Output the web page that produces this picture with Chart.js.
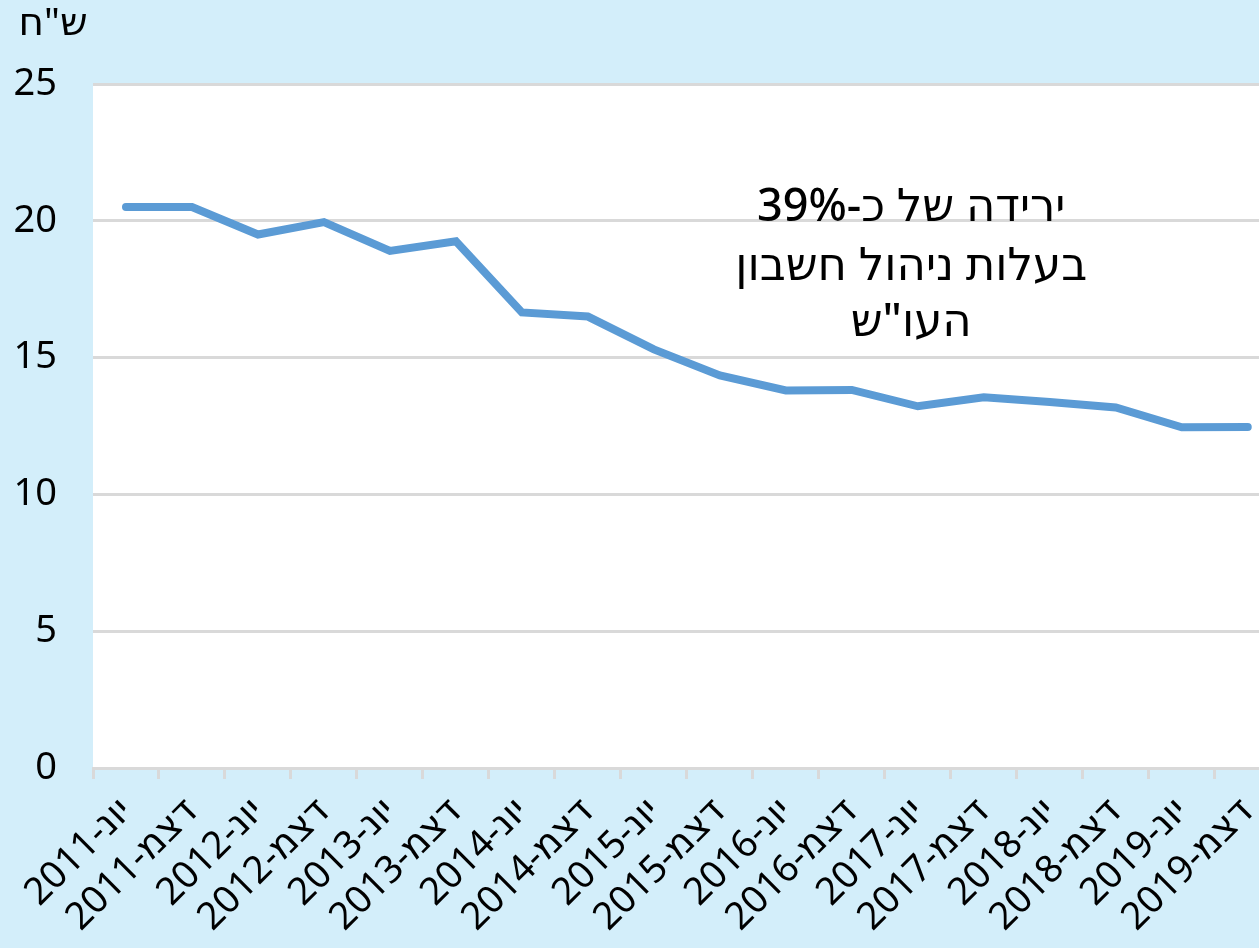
<!DOCTYPE html>
<html>
<head>
<meta charset="utf-8">
<script src="https://cdn.jsdelivr.net/npm/chart.js@4"></script>
<style>
  html, body { margin: 0; padding: 0; background: #d3eefa; overflow: hidden; }
  #wrap { width: 1259px; height: 948px; overflow: hidden; }
</style>
</head>
<body>
<div id="wrap"><canvas id="chart1" width="1290" height="948"></canvas></div>
<script>
const labels = [
  'יונ-2011', 'דצמ-2011', 'יונ-2012', 'דצמ-2012', 'יונ-2013', 'דצמ-2013',
  'יונ-2014', 'דצמ-2014', 'יונ-2015', 'דצמ-2015', 'יונ-2016', 'דצמ-2016',
  'יונ-2017', 'דצמ-2017', 'יונ-2018', 'דצמ-2018', 'יונ-2019', 'דצמ-2019',
];
const fees = [
  20.5, 20.5, 19.5, 19.95, 18.9, 19.25,
  16.65, 16.5, 15.3, 14.35, 13.8, 13.82,
  13.22, 13.55, 13.38, 13.18, 12.45, 12.46,
];
const yTicks = [0, 5, 10, 15, 20, 25];
const unitLabel = 'ש"ח';
const noteLines = ['ירידה של כ-39%', 'בעלות ניהול חשבון', 'העו"ש'];

const fontFamily = '"Noto Sans", "DejaVu Sans", sans-serif';

// white plot area + unit label + note
const extras = {
  id: 'extras',
  beforeDraw(chart) {
    const { ctx, chartArea: a } = chart;
    ctx.save();
    ctx.fillStyle = '#ffffff';
    ctx.fillRect(a.left, a.top, a.right - a.left, a.bottom - a.top);
    ctx.restore();
  },
  afterDraw(chart) {
    const { ctx } = chart;
    const x = chart.scales.x;
    const y = chart.scales.y;
    ctx.save();
    ctx.fillStyle = '#000000';
    ctx.direction = 'rtl';
    ctx.textAlign = 'center';
    ctx.textBaseline = 'middle';
    ctx.font = '39px ' + fontFamily;
    ctx.fillText(unitLabel, 53, 24);
    ctx.font = '500 45px ' + fontFamily;
    const cx = x.getPixelForValue(11.9);
    const lineY = [20.45, 18.32, 16.25];
    noteLines.forEach((t, i) => ctx.fillText(t, cx, y.getPixelForValue(lineY[i])));
    ctx.restore();
  },
};

const config = {
  type: 'line',
  data: {
    labels: labels,
    datasets: [{
      data: fees,
      borderColor: '#5b9bd5',
      borderWidth: 8,
      borderCapStyle: 'round',
      borderJoinStyle: 'miter',
      pointRadius: 0,
      fill: false,
      tension: 0,
    }],
  },
  options: {
    responsive: false,
    animation: false,
    layout: { padding: { top: 84, left: 0, right: 0, bottom: 0 } },
    plugins: { legend: { display: false }, tooltip: { enabled: false } },
    scales: {
      x: {
        offset: true,
        grid: { offset: true, drawOnChartArea: false, drawTicks: true, tickLength: 11, color: '#d9d9d9', lineWidth: 3 },
        border: { color: '#d9d9d9', width: 3 },
        ticks: {
          color: '#000000',
          font: { size: 38, family: fontFamily },
          minRotation: 45,
          maxRotation: 45,
          padding: 10,
          autoSkip: false,
        },
        afterFit(s) { s.height = 180; },
      },
      y: {
        min: 0,
        max: 25,
        afterBuildTicks(s) { s.ticks = yTicks.map(v => ({ value: v })); },
        grid: { drawTicks: false, color: '#d9d9d9', lineWidth: 3 },
        border: { display: false },
        ticks: {
          color: '#000000',
          font: { size: 38, family: fontFamily },
          padding: 36,
        },
        afterFit(s) { s.width = 93; },
      },
    },
  },
  plugins: [extras],
};

var myChart = new Chart(document.getElementById('chart1'), config);
</script>
</body>
</html>
